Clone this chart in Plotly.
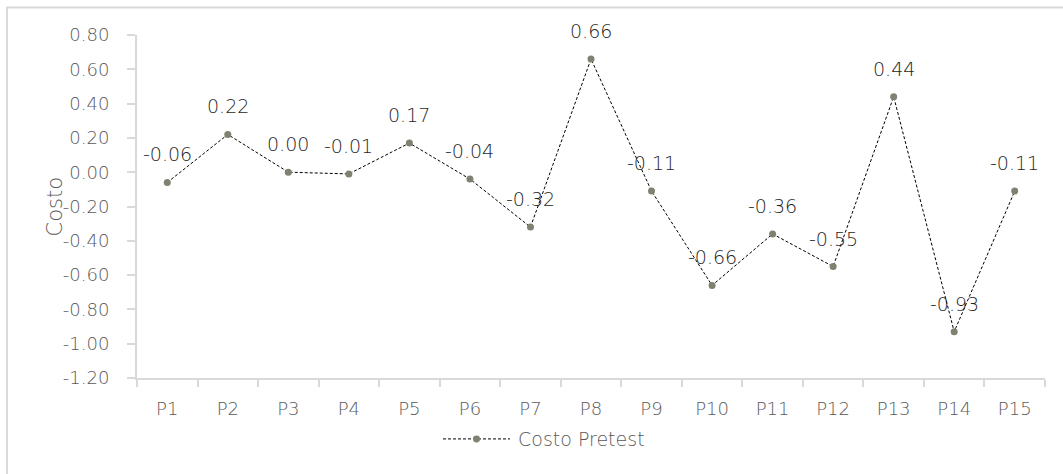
import plotly.graph_objects as go

# Pretest cost per participant
participants = [f"P{i}" for i in range(1, 16)]
costo_pretest = [-0.06, 0.22, 0.00, -0.01, 0.17, -0.04, -0.32, 0.66,
                 -0.11, -0.66, -0.36, -0.55, 0.44, -0.93, -0.11]
y_ticks = [0.8, 0.6, 0.4, 0.2, 0.0, -0.2, -0.4, -0.6, -0.8, -1.0, -1.2]

W, H = 1063, 474
L, R, T, B = 137, 18, 34.5, 96
PW, PH = W - L - R, H - T - B


def px_x(v):
    return (v - L) / PW


def px_y(v):
    return (H - B - v) / PH


FONT = "DejaVu Sans"
WEIGHT = 200
AXIS_GRAY = "#d9d9d9"
TEXT_GRAY = "#595959"
LABEL_DARK = "#1f1f1f"
MARKER = "#7f8270"


def tfont(size=18, color=TEXT_GRAY):
    return dict(family=FONT, size=size, color=color, weight=WEIGHT)


fig = go.Figure()
fig.add_trace(go.Scatter(
    x=participants,
    y=costo_pretest,
    mode="lines+markers",
    name="Costo Pretest",
    line=dict(color="black", width=1, dash="3px,2px"),
    marker=dict(color=MARKER, size=7),
    showlegend=False,
    cliponaxis=False,
))

# value labels above each point
value_labels = [
    dict(x=p, y=v, text=f"{v:.2f}", xref="x", yref="y",
         showarrow=False, yshift=28, font=tfont(19, LABEL_DARK))
    for p, v in zip(participants, costo_pretest)
]

fig.update_layout(
    width=W, height=H,
    margin=dict(l=L, r=R, t=T, b=B, autoexpand=False),
    paper_bgcolor="white",
    plot_bgcolor="white",
    font=dict(family=FONT, color=TEXT_GRAY),
    xaxis=dict(
        type="category",
        range=[-0.5, len(participants) - 0.5],
        showgrid=False, zeroline=False,
        showline=True, linecolor=AXIS_GRAY, linewidth=2,
        ticks="outside", tickcolor=AXIS_GRAY, ticklen=7, tickwidth=2,
        tickson="boundaries",
        tickfont=tfont(),
        ticklabelstandoff=13,
    ),
    yaxis=dict(
        range=[-1.2, 0.8],
        tickvals=y_ticks,
        ticktext=[f"{v:.2f}" for v in y_ticks],
        showgrid=False, zeroline=False,
        showline=True, linecolor=AXIS_GRAY, linewidth=2,
        ticks="outside", tickcolor=AXIS_GRAY, ticklen=8, tickwidth=2,
        tickfont=tfont(),
        ticklabelstandoff=14,
    ),
    shapes=[
        # chart frame
        dict(type="rect", xref="paper", yref="paper",
             x0=px_x(7), x1=px_x(W + 10), y0=px_y(H + 10), y1=px_y(7),
             line=dict(color=AXIS_GRAY, width=2), layer="below"),
        # legend sample line
        dict(type="line", xref="paper", yref="paper",
             x0=px_x(443), x1=px_x(510), y0=px_y(439), y1=px_y(439),
             line=dict(color="black", width=1, dash="3px,2px")),
        # legend sample marker
        dict(type="circle", xref="paper", yref="paper",
             x0=px_x(473), x1=px_x(480), y0=px_y(442.5), y1=px_y(435.5),
             fillcolor=MARKER, line=dict(width=0)),
    ],
    annotations=value_labels + [
        dict(text="Costo", xref="paper", yref="paper",
             x=px_x(40), y=0.5, textangle=-90, showarrow=False,
             font=tfont(21)),
        dict(text="Costo Pretest", xref="paper", yref="paper",
             x=px_x(516), y=px_y(439), xanchor="left", yanchor="middle",
             showarrow=False, font=tfont(19)),
    ],
)

fig.write_html("out.html")
